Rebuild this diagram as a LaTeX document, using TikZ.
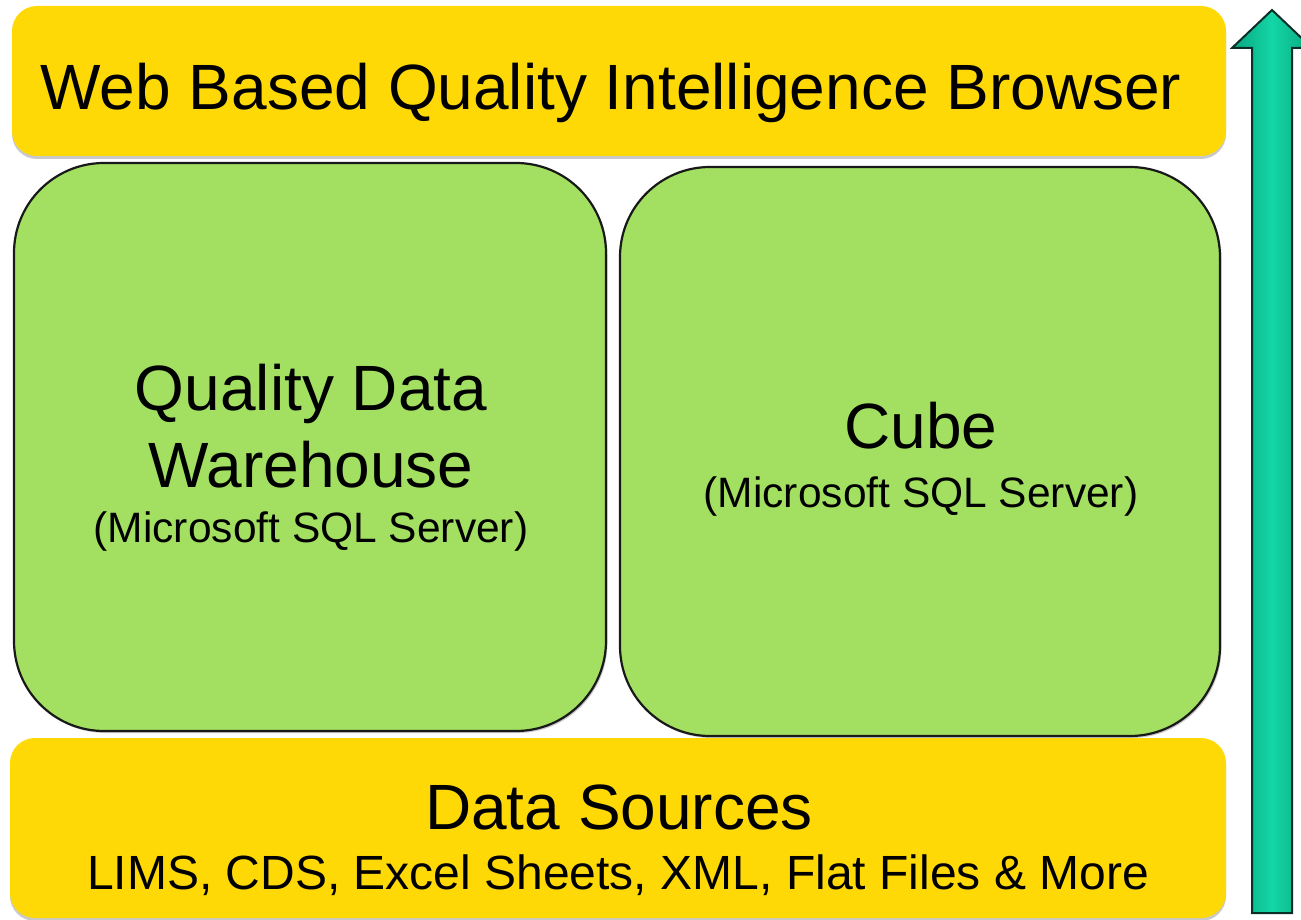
\documentclass[tikz,border=0pt]{standalone}
\usepackage{fontspec}
\setmainfont{Liberation Sans}
\usetikzlibrary{shadows}
\definecolor{qyellow}{HTML}{FFD905}
\definecolor{qgreen}{HTML}{A3E062}
\definecolor{qgreenedge}{HTML}{6E9A40}
\definecolor{qteal}{HTML}{14D6A6}
\definecolor{qtealdark}{HTML}{08A67F}
\definecolor{qtealline}{HTML}{0B2E27}
\begin{document}
\begin{tikzpicture}[x=1pt,y=-1pt,
  ybox/.style={rectangle, rounded corners=25pt, fill=qyellow, inner sep=0pt, outer sep=0pt, anchor=north west,
    drop shadow={shadow xshift=0pt, shadow yshift=-3pt, opacity=0.35, fill=black!60}},
  gbox/.style={rectangle, rounded corners=90pt, fill=qgreen, draw=black!90, line width=2.2pt, inner sep=0pt, outer sep=0pt, anchor=north west,
    drop shadow={shadow xshift=1.5pt, shadow yshift=-2pt, opacity=0.35, fill=black!60}},
  big/.style={font=\fontsize{64}{76}\selectfont, anchor=base, inner sep=0pt, text=black},
  small/.style={font=\fontsize{42.5}{50}\selectfont, anchor=base, inner sep=0pt, text=black},
  mid/.style={font=\fontsize{48}{56}\selectfont, anchor=base, inner sep=0pt, text=black}]
\useasboundingbox (0,0) rectangle (1301,920);
\fill[white] (0,0) rectangle (1301,920);

% boxes
\node[ybox, minimum width=1214pt, minimum height=150pt] (top) at (12,6) {};
\node[gbox, minimum width=592pt, minimum height=568pt] (dw) at (14,163) {};
\node[gbox, minimum width=600pt, minimum height=569pt] (cube) at (620,167) {};
\node[ybox, minimum width=1216pt, minimum height=180pt] (src) at (10,738) {};

% texts
\node[big] (ttl) at (611,110) {Web Based Quality Intelligence Browser};
\node[big] (dw1) at (311,410) {Quality Data};
\node[big] (dw2) at (311,487) {Warehouse};
\node[small] (dw3) at (311,542) {(Microsoft SQL Server)};
\node[big] (cb1) at (921,448) {Cube};
\node[small] (cb2) at (921,507) {(Microsoft SQL Server)};
\node[big] (ds1) at (619,829) {Data Sources};
\node[mid] (ds2) at (618,889) {LIMS, CDS, Excel Sheets, XML, Flat Files \& More};

% upward arrow
\path[shading=axis, left color=qtealdark, right color=qtealdark, middle color=qteal]
  (1252,913) -- (1252,48) -- (1232,48) -- (1272,10) -- (1312,48) -- (1292,48) -- (1292,913) -- cycle;
\draw[qtealline, line width=2pt, line join=miter]
  (1252,913) -- (1252,48) -- (1232,48) -- (1272,10) -- (1312,48) -- (1292,48) -- (1292,913) -- cycle;
\end{tikzpicture}
\end{document}
